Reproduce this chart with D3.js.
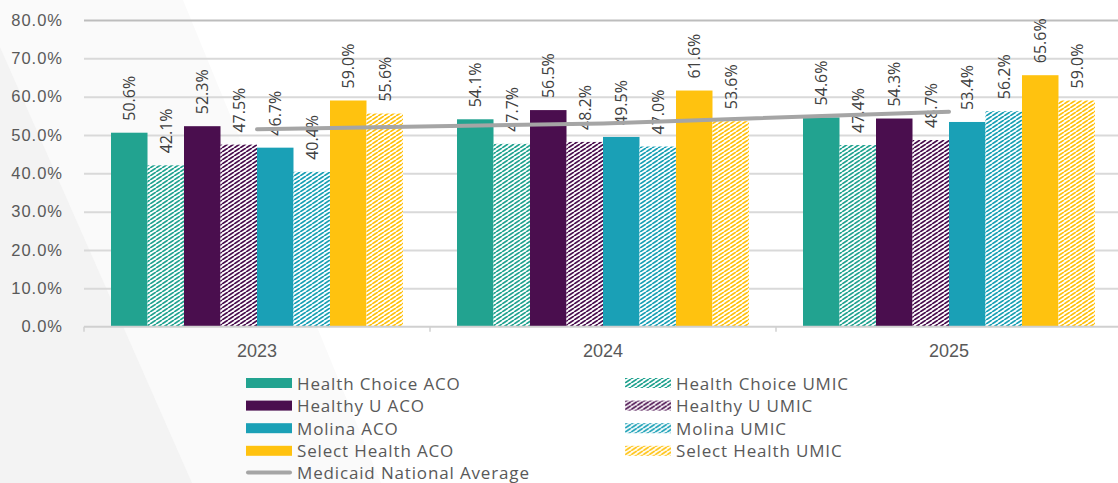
<!DOCTYPE html>
<html>
<head>
<meta charset="utf-8">
<script src="https://cdn.jsdelivr.net/npm/d3@7"></script>
<style>
  html, body { margin: 0; padding: 0; background: #fff; }
  svg { display: block; font-family: "Open Sans", "Noto Sans", sans-serif; }
</style>
</head>
<body>
<svg id="chart" width="1118" height="483"></svg>
<script>
// ---- data ----
const years = ["2023", "2024", "2025"];
const seriesNames = [
  "Health Choice ACO", "Health Choice UMIC",
  "Healthy U ACO", "Healthy U UMIC",
  "Molina ACO", "Molina UMIC",
  "Select Health ACO", "Select Health UMIC"
];
const healthChoiceACO  = [50.6, 54.1, 54.6];
const healthChoiceUMIC = [42.1, 47.7, 47.4];
const healthyUACO      = [52.3, 56.5, 54.3];
const healthyUUMIC     = [47.5, 48.2, 48.7];
const molinaACO        = [46.7, 49.5, 53.4];
const molinaUMIC       = [40.4, 47.0, 56.2];
const selectHealthACO  = [59.0, 61.6, 65.6];
const selectHealthUMIC = [55.6, 53.6, 59.0];
const medicaidNationalAverage = [51.5, 53.0, 56.1];
const lineName = "Medicaid National Average";
const yTicks = [0, 10, 20, 30, 40, 50, 60, 70, 80];

const seriesValues = [healthChoiceACO, healthChoiceUMIC, healthyUACO, healthyUUMIC,
                      molinaACO, molinaUMIC, selectHealthACO, selectHealthUMIC];
const baseColors = ["#22A390", "#22A390", "#4A0E4E", "#4A0E4E",
                    "#1AA0B6", "#1AA0B6", "#FFC20F", "#FFC20F"];
const hatched = [false, true, false, true, false, true, false, true];

// ---- layout ----
const W = 1118, H = 483;
const plotLeft = 84, plotRight = 1122, plotTop = 20, plotBottom = 326.7;

const svg = d3.select("#chart");
const defs = svg.append("defs");

// background diagonal shapes
svg.append("rect").attr("width", W).attr("height", H).attr("fill", "#ffffff");
svg.append("polygon")
  .attr("points", [[0,0],[183,0],[381,483],[0,483]].map(p => p.join(",")).join(" "))
  .attr("fill", "#FAFAFA");
svg.append("polygon")
  .attr("points", [[0,47],[192,483],[0,483]].map(p => p.join(",")).join(" "))
  .attr("fill", "#F3F3F3");

// hatch patterns (upward diagonal, ~36 degrees)
const hatchColors = Array.from(new Set(baseColors));
hatchColors.forEach((c, i) => {
  const p = defs.append("pattern")
    .attr("id", "hatch" + i)
    .attr("patternUnits", "userSpaceOnUse")
    .attr("width", 6).attr("height", 4);
  p.append("rect").attr("width", 6).attr("height", 4).attr("fill", "#fff");
  p.append("path")
    .attr("d", "M-6,4 L0,0 M0,4 L6,0 M6,4 L12,0")
    .attr("stroke", c).attr("stroke-width", 1.75);
});
function fillFor(i) {
  return hatched[i] ? "url(#hatch" + hatchColors.indexOf(baseColors[i]) + ")" : baseColors[i];
}

// scales
const y = d3.scaleLinear().domain([0, 80]).range([plotBottom, plotTop]);
const x0 = d3.scaleBand().domain(years).range([plotLeft, plotRight]).padding(0);
const x1 = d3.scaleBand().domain(seriesNames).range([0, x0.bandwidth()])
  .paddingInner(0).paddingOuter(0.74);

// y axis + gridlines
const yAxis = d3.axisLeft(y).tickValues(yTicks)
  .tickFormat(d => d.toFixed(1) + "%")
  .tickSize(-(W - plotLeft)).tickPadding(21);
const gy = svg.append("g").attr("transform", `translate(${plotLeft},0)`).call(yAxis);
gy.select(".domain").remove();
gy.selectAll(".tick line")
  .attr("stroke", d => d === 80 ? "#BDBDBD" : "#D9D9D9")
  .attr("stroke-width", 2)
  .style("display", d => d === 0 ? "none" : null);
gy.selectAll(".tick text")
  .attr("fill", "#595959").style("font-size", "16.5px").style("letter-spacing", "1px");

// bars
const groups = svg.append("g").selectAll("g")
  .data(years).join("g")
  .attr("transform", d => `translate(${x0(d)},0)`);

groups.selectAll("rect")
  .data((yr, yi) => seriesNames.map((s, si) => ({ s, si, v: seriesValues[si][yi] })))
  .join("rect")
  .attr("x", d => x1(d.s))
  .attr("width", x1.bandwidth())
  .attr("y", d => y(d.v))
  .attr("height", d => y(0) - y(d.v))
  .attr("fill", d => fillFor(d.si));

// x axis line + boundary ticks
svg.append("line")
  .attr("x1", plotLeft).attr("x2", W)
  .attr("y1", y(0)).attr("y2", y(0))
  .attr("stroke", "#D0D0D0").attr("stroke-width", 2);
svg.append("g").selectAll("line")
  .data(years).join("line")
  .attr("x1", d => x0(d)).attr("x2", d => x0(d))
  .attr("y1", y(0)).attr("y2", y(0) + 5)
  .attr("stroke", "#D0D0D0").attr("stroke-width", 1.5);

const xAxis = d3.axisBottom(x0).tickSize(0).tickPadding(18);
const gx = svg.append("g").attr("transform", `translate(0,${y(0)})`).call(xAxis);
gx.select(".domain").remove();
gx.selectAll(".tick text").attr("fill", "#595959").style("font-size", "18px");

// line series
const line = d3.line()
  .x((d, i) => x0(years[i]) + x0.bandwidth() / 2)
  .y(d => y(d));
svg.append("path")
  .datum(medicaidNationalAverage)
  .attr("d", line)
  .attr("fill", "none")
  .attr("stroke", "#A5A5A5")
  .attr("stroke-width", 4)
  .attr("stroke-linecap", "round")
  .attr("stroke-linejoin", "round");

// data labels
groups.selectAll("text.lbl")
  .data((yr, yi) => seriesNames.map((s, si) => ({ s, si, v: seriesValues[si][yi] })))
  .join("text")
  .attr("class", "lbl")
  .attr("transform", d => `translate(${x1(d.s) + x1.bandwidth() / 2},${y(d.v) - 12}) rotate(-90)`)
  .attr("text-anchor", "start")
  .attr("dominant-baseline", "central")
  .attr("fill", "#404040")
  .style("font-size", "16px")
  .text(d => d.v.toFixed(1) + "%");

// legend
const legendItems = [];
for (let k = 0; k < 4; k++) {
  legendItems.push({ name: seriesNames[2 * k], si: 2 * k, col: 0, row: k });
  legendItems.push({ name: seriesNames[2 * k + 1], si: 2 * k + 1, col: 1, row: k });
}
const legCols = [246, 625];
const legRow0 = 383, legStep = 22.6;
const leg = svg.append("g");
const li = leg.selectAll("g").data(legendItems).join("g")
  .attr("transform", d => `translate(${legCols[d.col]},${legRow0 + d.row * legStep})`);
li.append("rect")
  .attr("x", 0).attr("y", -5).attr("width", 46).attr("height", 10)
  .attr("fill", d => fillFor(d.si));
li.append("text")
  .attr("x", 51).attr("dominant-baseline", "central")
  .attr("fill", "#595959").style("font-size", "17px").style("letter-spacing", "0.85px")
  .text(d => d.name);

const ll = leg.append("g").attr("transform", `translate(${legCols[0]},${legRow0 + 4 * legStep - 1})`);
ll.append("line").attr("x1", 2).attr("x2", 44).attr("y1", 0).attr("y2", 0)
  .attr("stroke", "#A5A5A5").attr("stroke-width", 4).attr("stroke-linecap", "round");
ll.append("text").attr("x", 51).attr("dominant-baseline", "central")
  .attr("fill", "#595959").style("font-size", "17px").style("letter-spacing", "0.85px").text(lineName);
</script>
</body>
</html>
